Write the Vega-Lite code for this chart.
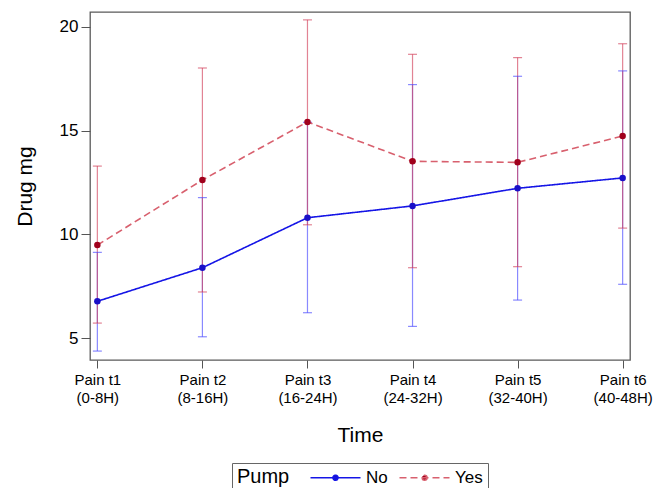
{
  "$schema": "https://vega.github.io/schema/vega-lite/v6.json",
  "width": 540,
  "height": 348,
  "autosize": {"type": "none"},
  "padding": {"left": 90, "top": 12, "right": 37, "bottom": 128},
  "background": "white",
  "config": {
    "font": "Liberation Sans",
    "view": {"stroke": "#5a5a5a", "strokeWidth": 1.3},
    "axis": {"grid": false, "domain": false, "tickColor": "#555555", "labelColor": "#000000", "titleColor": "#000000", "titleFontWeight": "normal"}
  },
  "data": {
    "values": [
      {"time": "Pain t1|(0-8H)", "pump": "No", "mean": 6.77, "lo": 4.37, "hi": 9.13},
      {"time": "Pain t2|(8-16H)", "pump": "No", "mean": 8.39, "lo": 5.06, "hi": 11.77},
      {"time": "Pain t3|(16-24H)", "pump": "No", "mean": 10.8, "lo": 6.22, "hi": 15.4},
      {"time": "Pain t4|(24-32H)", "pump": "No", "mean": 11.37, "lo": 5.56, "hi": 17.22},
      {"time": "Pain t5|(32-40H)", "pump": "No", "mean": 12.22, "lo": 6.83, "hi": 17.62},
      {"time": "Pain t6|(40-48H)", "pump": "No", "mean": 12.72, "lo": 7.59, "hi": 17.88},
      {"time": "Pain t1|(0-8H)", "pump": "Yes", "mean": 9.48, "lo": 5.72, "hi": 13.29},
      {"time": "Pain t2|(8-16H)", "pump": "Yes", "mean": 12.62, "lo": 7.22, "hi": 18.02},
      {"time": "Pain t3|(16-24H)", "pump": "Yes", "mean": 15.42, "lo": 10.46, "hi": 20.34},
      {"time": "Pain t4|(24-32H)", "pump": "Yes", "mean": 13.52, "lo": 8.39, "hi": 18.68},
      {"time": "Pain t5|(32-40H)", "pump": "Yes", "mean": 13.47, "lo": 8.44, "hi": 18.52},
      {"time": "Pain t6|(40-48H)", "pump": "Yes", "mean": 14.74, "lo": 10.3, "hi": 19.19}
    ]
  },
  "encoding": {
    "x": {
      "field": "time", "type": "ordinal",
      "sort": ["Pain t1|(0-8H)", "Pain t2|(8-16H)", "Pain t3|(16-24H)", "Pain t4|(24-32H)", "Pain t5|(32-40H)", "Pain t6|(40-48H)"],
      "scale": {"type": "point", "padding": 0.07},
      "axis": {"title": "Time", "titleFontSize": 21, "titlePadding": 19, "labelExpr": "split(datum.label, '|')", "labelAngle": 0, "labelFontSize": 15, "labelLineHeight": 18, "tickSize": 8, "labelPadding": 4}
    }
  },
  "layer": [
    {
      "mark": {"type": "rule", "strokeWidth": 1.2},
      "encoding": {
        "y": {"field": "lo", "type": "quantitative", "scale": {"domain": [3.94, 20.72], "nice": false, "zero": false},
          "axis": {"title": "Drug mg", "titleFontSize": 21, "titlePadding": 24, "values": [5, 10, 15, 20], "labelFontSize": 17, "tickSize": 9, "labelPadding": 3}},
        "y2": {"field": "hi"},
        "color": {"condition": {"test": "datum.pump === 'No'", "value": "#4a4aff"}, "value": "#d2405a"},
        "opacity": {"value": 0.65}
      }
    },
    {
      "mark": {"type": "tick", "size": 9, "thickness": 1.2},
      "encoding": {
        "y": {"field": "lo", "type": "quantitative"},
        "color": {"condition": {"test": "datum.pump === 'No'", "value": "#4a4aff"}, "value": "#d2405a"},
        "opacity": {"value": 0.65}
      }
    },
    {
      "mark": {"type": "tick", "size": 9, "thickness": 1.2},
      "encoding": {
        "y": {"field": "hi", "type": "quantitative"},
        "color": {"condition": {"test": "datum.pump === 'No'", "value": "#4a4aff"}, "value": "#d2405a"},
        "opacity": {"value": 0.65}
      }
    },
    {
      "mark": {"type": "line", "strokeWidth": 1.6},
      "encoding": {
        "y": {"field": "mean", "type": "quantitative"},
        "color": {"field": "pump", "type": "nominal", "scale": {"domain": ["No", "Yes"], "range": ["#1515e6", "#d8606e"]},
          "legend": {"title": "Pump", "orient": "none", "legendX": 142, "legendY": 451, "direction": "horizontal", "titleOrient": "left",
            "titleFontSize": 20, "titleFontWeight": "normal", "titleColor": "#000000", "labelFontSize": 17, "labelColor": "#000000",
            "strokeColor": "#666666", "padding": 5, "columnPadding": 8, "titlePadding": 36, "labelOffset": 21,
            "symbolType": "M-3,0L3,0M0.3,0A0.3,0.3,0,1,1,-0.3,0A0.3,0.3,0,1,1,0.3,0", "symbolSize": 278, "symbolStrokeWidth": 1.6,
            "encode": {"symbols": {"update": {"fill": {"signal": "datum.value === 'No' ? '#1a10c8' : '#a0001c'"}}}}}},
        "strokeDash": {"field": "pump", "type": "nominal", "scale": {"domain": ["No", "Yes"], "range": [[1, 0], [7, 4]]}, "legend": null}
      }
    },
    {
      "mark": {"type": "circle", "size": 42, "opacity": 1},
      "encoding": {
        "y": {"field": "mean", "type": "quantitative"},
        "color": {"condition": {"test": "datum.pump === 'No'", "value": "#1a10c8"}, "value": "#a0001c"}
      }
    }
  ]
}
